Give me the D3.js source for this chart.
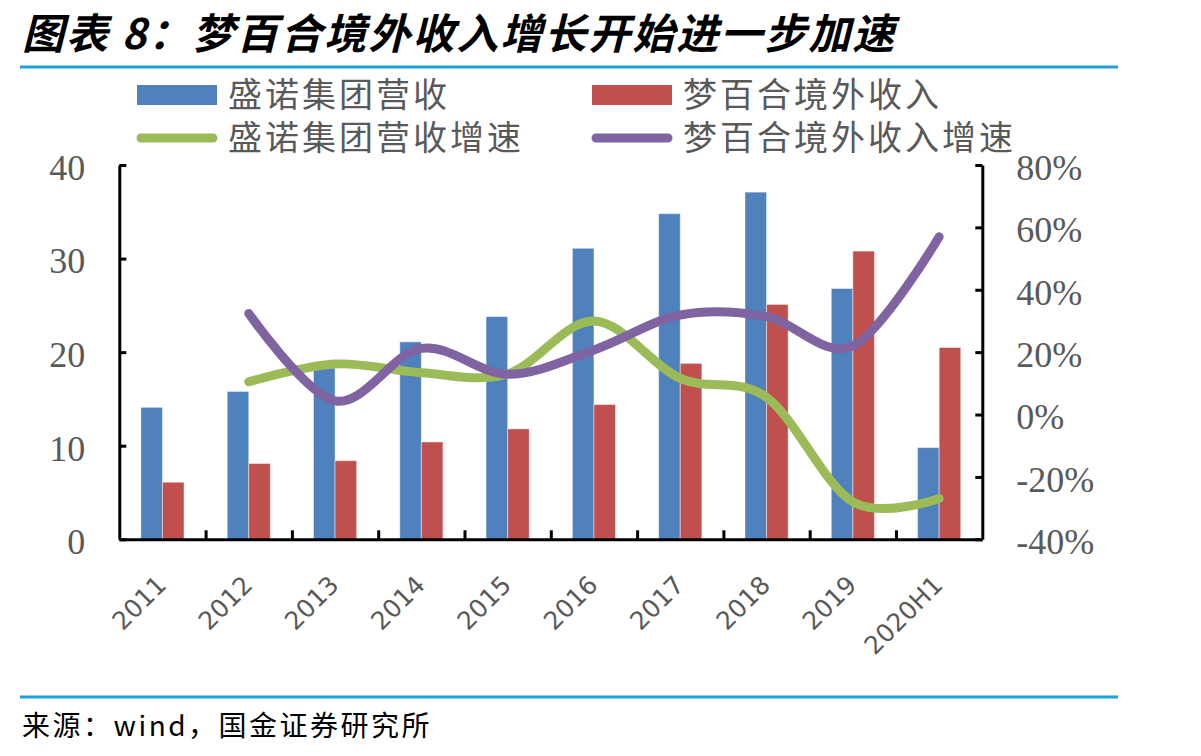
<!DOCTYPE html>
<html>
<head>
<meta charset="utf-8">
<script src="https://cdn.jsdelivr.net/npm/d3@7"></script>
<style>
  body { margin: 0; background: #fff; }
  .axis text { fill: #595959; }
</style>
</head>
<body>
<div class="chart"></div>
<script>
// Data
const categories = ["2011", "2012", "2013", "2014", "2015", "2016", "2017", "2018", "2019", "2020H1"];
const groupRevenue = [14.1, 15.8, 18.3, 21.1, 23.8, 31.1, 34.8, 37.1, 26.8, 9.8];      // 盛诺集团营收
const overseasRevenue = [6.1, 8.1, 8.4, 10.4, 11.8, 14.4, 18.8, 25.1, 30.8, 20.5];    // 梦百合境外收入
const groupGrowth = [null, 10.5, 16.2, 13.4, 13.0, 30.0, 11.6, 5.5, -28.0, -26.9];    // 盛诺集团营收增速 (%)
const overseasGrowth = [null, 32.4, 4.4, 21.2, 12.9, 20.7, 31.9, 31.4, 22.0, 57.0];   // 梦百合境外收入增速 (%)
const leftTicks = [0, 10, 20, 30, 40];
const rightTicks = [-40, -20, 0, 20, 40, 60, 80];

const W = 1201, H = 756;
const M = { LEFT: 119.3, RIGHT: 982.3, TOP: 165, BOTTOM: 539.3 };
const BLUE = "#4f81bd", RED = "#c0504d", GREEN = "#9bbb59", PURPLE = "#8064a2", LINE_BLUE = "#1ea0e0";

const svg = d3.select(".chart").append("svg").attr("width", W).attr("height", H);

// Title and frame lines
svg.append("text")
  .attr("x", 22)
  .attr("y", 49)
  .attr("font-family", "Noto Sans CJK SC")
  .attr("font-weight", 700)
  .attr("font-style", "italic")
  .attr("font-size", 42)
  .attr("letter-spacing", 2)
  .attr("fill", "#000")
  .text("图表 8：梦百合境外收入增长开始进一步加速");

svg.append("line").attr("x1", 20).attr("x2", 1118).attr("y1", 67).attr("y2", 67)
  .attr("stroke", LINE_BLUE).attr("stroke-width", 3);
svg.append("line").attr("x1", 20).attr("x2", 1118).attr("y1", 697).attr("y2", 697)
  .attr("stroke", LINE_BLUE).attr("stroke-width", 3);

svg.append("text")
  .attr("x", 22)
  .attr("y", 736)
  .attr("font-family", "Noto Sans CJK SC")
  .attr("font-size", 28)
  .attr("letter-spacing", 2.5)
  .attr("fill", "#000")
  .text("来源：wind，国金证券研究所");

// Scales
const x = d3.scaleBand().domain(categories).range([M.LEFT, M.RIGHT]);
const xSub = d3.scaleBand().domain(["group", "overseas"])
  .range([x.bandwidth() * 0.25, x.bandwidth() * 0.75]);
const yLeft = d3.scaleLinear().domain([0, 40]).range([M.BOTTOM, M.TOP]);
const yRight = d3.scaleLinear().domain([-40, 80]).range([M.BOTTOM, M.TOP]);

// Bars
const bars = [
  { key: "group", values: groupRevenue, color: BLUE },
  { key: "overseas", values: overseasRevenue, color: RED }
];
bars.forEach(s => {
  svg.append("g").selectAll("rect")
    .data(s.values)
    .join("rect")
    .attr("x", (d, i) => x(categories[i]) + xSub(s.key))
    .attr("y", d => yLeft(d))
    .attr("width", xSub.bandwidth())
    .attr("height", d => yLeft(0) - yLeft(d))
    .attr("fill", s.color)
    .attr("stroke", "#ffffff")
    .attr("stroke-opacity", 0.45)
    .attr("stroke-width", 1);
});

// Smoothed growth lines
const line = d3.line()
  .defined(d => d != null)
  .x((d, i) => x(categories[i]) + x.bandwidth() / 2)
  .y(d => yRight(d))
  .curve(d3.curveCardinal.tension(0));

[{ values: groupGrowth, color: GREEN }, { values: overseasGrowth, color: PURPLE }].forEach(s => {
  svg.append("path")
    .datum(s.values)
    .attr("d", line)
    .attr("fill", "none")
    .attr("stroke", s.color)
    .attr("stroke-width", 9)
    .attr("stroke-linecap", "round")
    .attr("stroke-linejoin", "round");
});

// Axes
const styleAxis = g => {
  g.select(".domain").attr("stroke", "#000").attr("stroke-width", 3);
  g.selectAll(".tick line").attr("stroke", "#000").attr("stroke-width", 3);
};

svg.append("g")
  .attr("class", "axis")
  .attr("transform", `translate(${M.LEFT}, 0)`)
  .call(d3.axisLeft(yLeft).tickValues(leftTicks).tickSize(-7).tickSizeOuter(0).tickPadding(34))
  .call(styleAxis)
  .call(g => g.selectAll("text")
    .attr("font-family", "Liberation Serif")
    .attr("font-size", 36)
    .attr("dy", "0.4em"));

svg.append("g")
  .attr("class", "axis")
  .attr("transform", `translate(${M.RIGHT}, 0)`)
  .call(d3.axisRight(yRight).tickValues(rightTicks).tickSize(-7).tickSizeOuter(0).tickPadding(34)
    .tickFormat(d => d + "%"))
  .call(styleAxis)
  .call(g => g.selectAll("text")
    .attr("font-family", "Liberation Serif")
    .attr("font-size", 36)
    .attr("dy", "0.4em"));

// x axis: ticks sit on the band boundaries
const xEdges = d3.scaleLinear().domain([0, categories.length]).range([M.LEFT, M.RIGHT]);
svg.append("g")
  .attr("class", "axis")
  .attr("transform", `translate(0, ${M.BOTTOM})`)
  .call(d3.axisBottom(xEdges).tickValues(d3.range(1, categories.length)).tickSize(-9).tickSizeOuter(0).tickFormat(""))
  .call(styleAxis);

svg.append("g")
  .attr("class", "axis")
  .attr("transform", `translate(0, ${M.BOTTOM})`)
  .call(d3.axisBottom(x).tickSize(0))
  .call(g => g.select(".domain").remove())
  .call(g => g.selectAll("text")
    .attr("font-family", "DejaVu Sans")
    .attr("font-size", 25)
    .attr("y", 0)
    .attr("dy", "0.35em")
    .attr("text-anchor", "end")
    .attr("transform", "translate(-1, 41) rotate(-45)"));

// Legend
const legend = svg.append("g")
  .attr("font-family", "Noto Sans CJK SC")
  .attr("font-size", 34)
  .attr("letter-spacing", 3)
  .attr("fill", "#595959");
const legendItems = [
  { label: "盛诺集团营收", color: BLUE, type: "rect", x: 137, y: 95 },
  { label: "梦百合境外收入", color: RED, type: "rect", x: 592, y: 95 },
  { label: "盛诺集团营收增速", color: GREEN, type: "line", x: 137, y: 138 },
  { label: "梦百合境外收入增速", color: PURPLE, type: "line", x: 592, y: 138 }
];
legendItems.forEach(d => {
  if (d.type === "rect") {
    legend.append("rect")
      .attr("x", d.x).attr("y", d.y - 10).attr("width", 80).attr("height", 20)
      .attr("fill", d.color);
  } else {
    legend.append("line")
      .attr("x1", d.x + 4).attr("x2", d.x + 76).attr("y1", d.y).attr("y2", d.y)
      .attr("stroke", d.color).attr("stroke-width", 9).attr("stroke-linecap", "round");
  }
  legend.append("text")
    .attr("x", d.x + 91)
    .attr("y", d.y)
    .attr("dy", "0.36em")
    .text(d.label);
});
</script>
</body>
</html>
